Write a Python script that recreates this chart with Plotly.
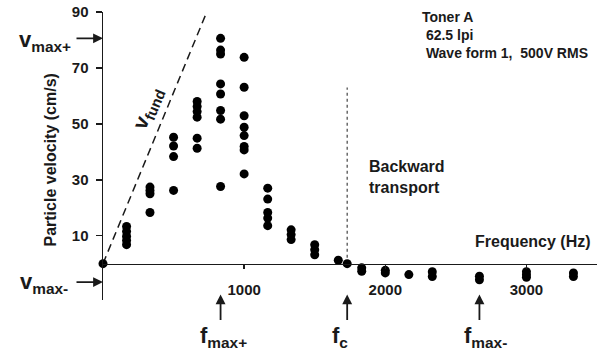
import plotly.graph_objects as go

# ---------------- data ----------------
cluster_freqs = [0, 167, 333, 500, 667, 833, 1000, 1167, 1333, 1500, 1667, 1730,
                 1833, 2000, 2167, 2333, 2667, 3000, 3333]
cluster_velocities = [
    [0.0],
    [13.3, 11.5, 9.8, 8.3, 6.8],
    [27.4, 26.2, 25.0, 18.3],
    [45.2, 42.1, 38.3, 26.2],
    [58.0, 56.2, 54.4, 52.4, 44.9, 41.3],
    [80.6, 76.4, 75.0, 64.3, 60.7, 54.8, 51.7, 27.6],
    [73.8, 63.1, 52.9, 48.8, 45.8, 41.9, 40.7, 32.1],
    [27.0, 23.1, 18.3, 16.3, 13.6],
    [12.1, 10.4, 8.6],
    [6.8, 5.0, 3.2],
    [1.2],
    [0.0],
    [-1.5, -2.7],
    [-2.4, -3.3],
    [-3.9],
    [-2.9, -4.6],
    [-4.5, -5.8],
    [-2.9, -4.0, -4.9],
    [-3.3, -4.6],
]

vfund_freq = [0, 735]
vfund_vel = [0, 90]

f_max_plus = 833
f_c = 1730
f_max_minus = 2667
v_max_plus = 80.6
v_max_minus = -6.6
fc_line_top = 63

x_ticks = [1000, 2000, 3000]
y_ticks = [10, 30, 50, 70, 90]
x_range = [0, 3500]
y_range = [-13, 90.02]

# ---------------- build ----------------
freq_hz = []
velocity = []
for f, vs in zip(cluster_freqs, cluster_velocities):
    for v in vs:
        freq_hz.append(f)
        velocity.append(v)

INK = "#1a1a1a"
FONT = "Liberation Sans, Arial, sans-serif"

fig = go.Figure()

fig.add_trace(go.Scatter(
    x=vfund_freq, y=vfund_vel, mode="lines",
    line=dict(color=INK, width=1.5, dash="8px,5px"),
    hoverinfo="skip", showlegend=False, cliponaxis=False))

fig.add_trace(go.Scatter(
    x=[f_c, f_c], y=[0, fc_line_top], mode="lines",
    line=dict(color="#444444", width=1.2, dash="dot"),
    hoverinfo="skip", showlegend=False))

fig.add_trace(go.Scatter(
    x=freq_hz, y=velocity, mode="markers",
    marker=dict(color="black", size=9, line=dict(width=0)),
    showlegend=False, cliponaxis=False))

x_axis_pos = (0 - y_range[0]) / (y_range[1] - y_range[0])

W, H = 602, 350
ML, MR, MT, MB = 103, 5, 12, 50
PW = W - ML - MR
PH = H - MT - MB

fig.update_layout(
    width=W, height=H, autosize=False,
    margin=dict(l=ML, r=MR, t=MT, b=MB, pad=0, autoexpand=False),
    paper_bgcolor="white", plot_bgcolor="white",
    font=dict(family=FONT, color=INK),
    xaxis=dict(range=x_range, tickvals=x_ticks, showgrid=False, zeroline=False,
               showline=True, linecolor=INK, linewidth=1.5, automargin=False,
               ticks="outside", ticklen=4, tickwidth=1.5, tickcolor=INK,
               tickfont=dict(size=15, weight="bold", family=FONT, color=INK),
               anchor="free", position=x_axis_pos, ticklabelstandoff=8,
               ticklabeloverflow="allow"),
    yaxis=dict(range=y_range, tickvals=y_ticks, showgrid=False, zeroline=False,
               showline=True, linecolor=INK, linewidth=1.5, automargin=False,
               ticks="outside", ticklen=6, tickwidth=1.5, tickcolor=INK,
               tickfont=dict(size=15, weight="bold", family=FONT, color=INK),
               ticklabelstandoff=4, ticklabeloverflow="allow"),
)

# helpers: convert target-picture pixel positions to paper coordinates
def px_x(p):
    return (p - ML) / PW

def px_y(p):
    return (H - MB - p) / PH

bold = dict(family=FONT, color=INK, weight="bold")

ann = []
# y axis title
ann.append(dict(text="Particle velocity (cm/s)", xref="paper", yref="paper",
                x=px_x(50), y=px_y(160.5), xanchor="center", yanchor="middle",
                textangle=-90, showarrow=False, font=dict(size=16, **bold)))
# frequency title
ann.append(dict(text="Frequency (Hz)", xref="paper", yref="paper",
                x=px_x(593), y=px_y(241.7), xanchor="right", yanchor="middle",
                showarrow=False, font=dict(size=16, **bold)))
# backward transport
ann.append(dict(text="Backward<br>transport", xref="paper", yref="paper",
                x=px_x(367), y=px_y(176.5), xanchor="left", yanchor="middle",
                align="left", showarrow=False, font=dict(size=16, **bold)))
# info block
ann.append(dict(text="Toner A<br>\u00a062.5 lpi<br>\u00a0Wave form 1,\u00a0 500V RMS",
                xref="paper", yref="paper", x=px_x(420), y=px_y(35.3),
                xanchor="left", yanchor="middle", align="left", showarrow=False,
                font=dict(size=14, **bold)))
# v fund
ann.append(dict(text="v<sub>fund</sub>", xref="paper", yref="paper",
                x=px_x(148), y=px_y(108), xanchor="center", yanchor="middle",
                textangle=-67.6, showarrow=False, font=dict(size=21, **bold)))
# v max labels
ann.append(dict(text="v<sub>max+</sub>", xref="paper", yref="paper",
                x=px_x(73), y=px_y(41), xanchor="right", yanchor="middle",
                showarrow=False, font=dict(size=22, **bold)))
ann.append(dict(text="v<sub>max-</sub>", xref="paper", yref="paper",
                x=px_x(70), y=px_y(283), xanchor="right", yanchor="middle",
                showarrow=False, font=dict(size=22, **bold)))
# v max arrows
for v in (v_max_plus, v_max_minus):
    ann.append(dict(text="", x=0, y=v, xref="x", yref="y", ax=-28, ay=0,
                    showarrow=True, arrowhead=2, arrowsize=1.1, arrowwidth=1.8,
                    arrowcolor=INK))
# frequency arrows and labels
for f, lbl, dx in ((f_max_plus, "f<sub>max+</sub>", 3),
                   (f_c, "f<sub>c</sub>", -7),
                   (f_max_minus, "f<sub>max-</sub>", 6)):
    ann.append(dict(text="", x=f, y=-11, xref="x", yref="y", ax=0, ay=27,
                    showarrow=True, arrowhead=2, arrowsize=1.1, arrowwidth=1.8,
                    arrowcolor=INK))
    ann.append(dict(text=lbl, x=f, y=px_y(337), xref="x", yref="paper",
                    xshift=dx, xanchor="center", yanchor="middle", showarrow=False,
                    font=dict(size=22, **bold)))

fig.update_layout(annotations=ann)

# remove the default 8px page margin so the figure sits at the window's corner
fig.write_html("out.html",
               config={"displayModeBar": False, "staticPlot": True},
               post_script="document.body.style.margin='0';")
